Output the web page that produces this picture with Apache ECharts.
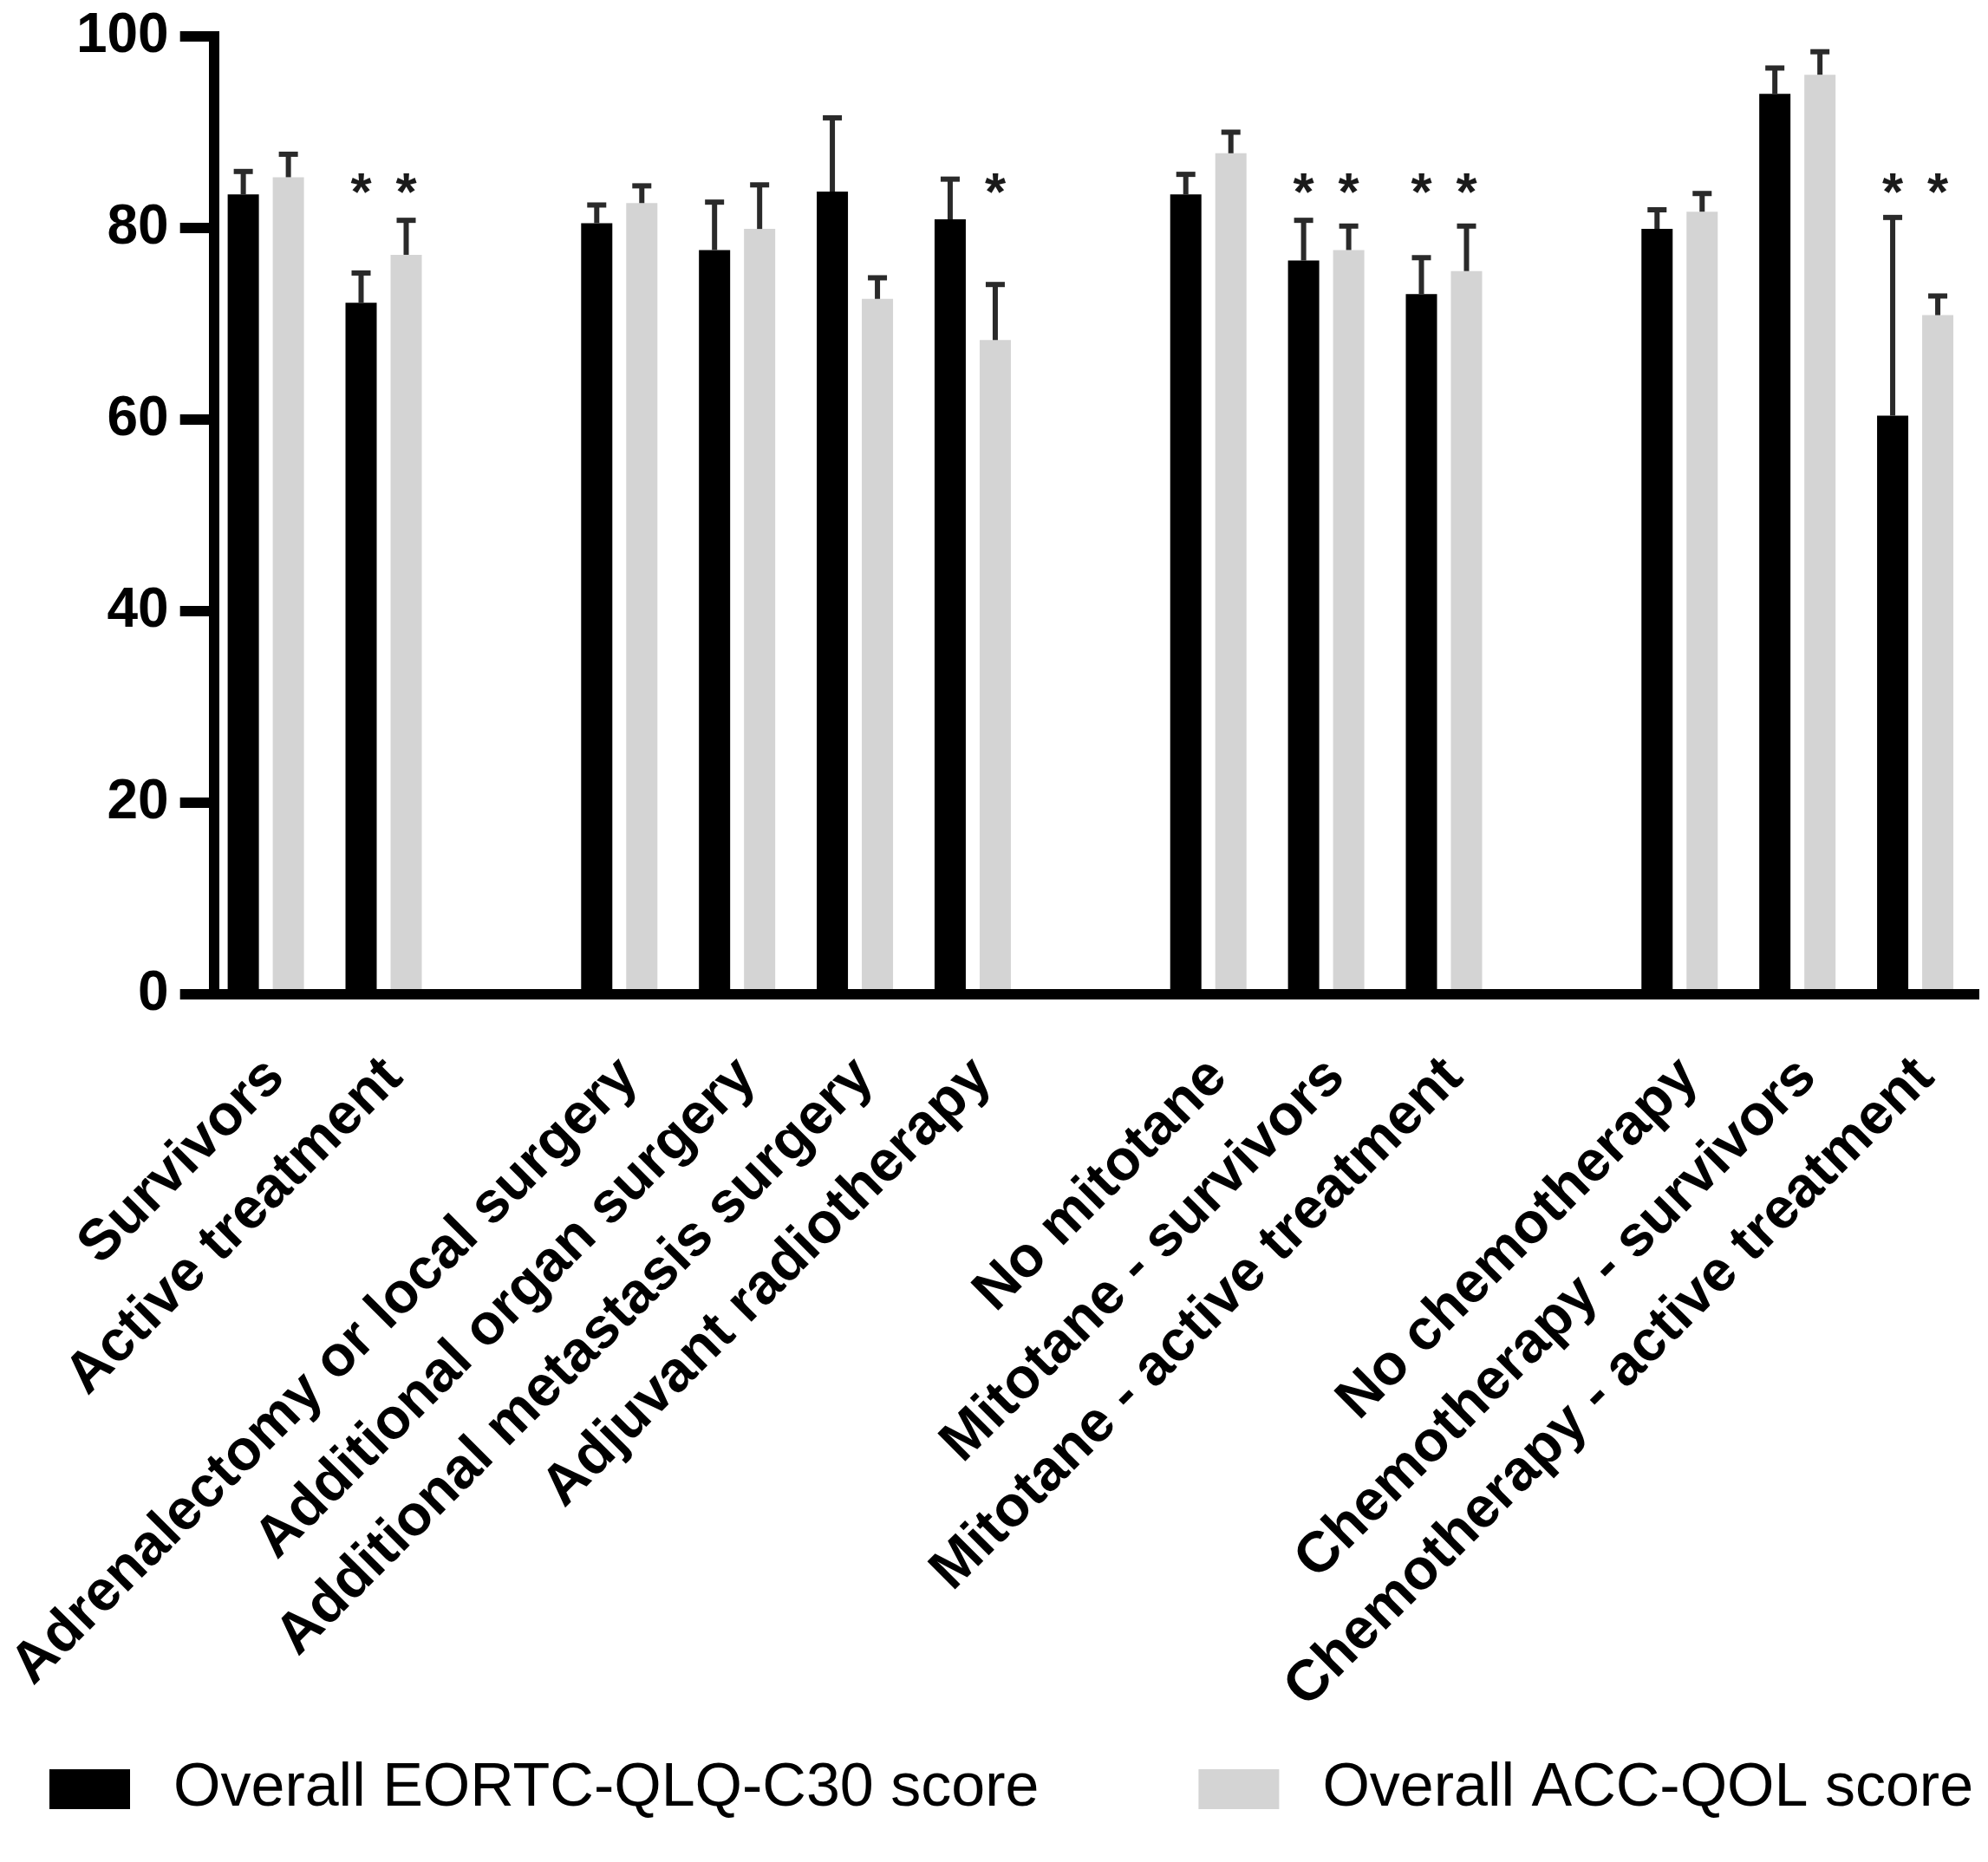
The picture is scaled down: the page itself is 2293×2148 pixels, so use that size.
<!DOCTYPE html>
<html>
<head>
<meta charset="utf-8">
<script src="https://cdn.jsdelivr.net/npm/echarts@6/dist/echarts.min.js"></script>
<style>
  html, body { margin: 0; padding: 0; background: #fff; }
  #chart { width: 2293px; height: 2148px; }
</style>
</head>
<body>
<div id="chart"></div>
<script>
// ---- data (blank strings are the empty slots between groups) ----
const categories = [
  'Survivors', 'Active treatment', '',
  'Adrenalectomy or local surgery', 'Additional organ surgery', 'Additional metastasis surgery', 'Adjuvant radiotherapy', '',
  'No mitotane', 'Mitotane - survivors', 'Mitotane - active treatment', '',
  'No chemotherapy', 'Chemotherapy - survivors', 'Chemotherapy - active treatment'
];
const seriesNames = ['Overall EORTC-QLQ-C30 score', 'Overall ACC-QOL score'];
const eortcMean = [83.5, 72.2, null, 80.5, 77.7, 83.8, 80.9, null, 83.5, 76.6, 73.1, null, 79.9, 94.0, 60.4];
const eortcErr  = [2.4, 3.1, null, 1.9, 5.0, 7.7, 4.2, null, 2.1, 4.2, 3.8, null, 2.0, 2.7, 20.7];
const accMean   = [85.3, 77.2, null, 82.6, 79.9, 72.6, 68.3, null, 87.8, 77.7, 75.5, null, 81.7, 96.0, 70.9];
const accErr    = [2.4, 3.6, null, 1.8, 4.6, 2.2, 5.8, null, 2.2, 2.5, 4.7, null, 1.9, 2.4, 2.0];
const eortcStar = [0, 1, 0, 0, 0, 0, 0, 0, 0, 1, 1, 0, 0, 0, 1];
const accStar   = [0, 1, 0, 0, 0, 0, 1, 0, 0, 1, 1, 0, 0, 0, 1];
const starLevel = 84.5;
const yTicks = { min: 0, max: 100, interval: 20 };

// ---- style constants ----
const FONT = "'Liberation Sans', Arial, Helvetica, sans-serif";
const BAR_W = 36;
const BAR_GAP_PX = 16;
const colors = ['#000000', '#d4d4d4'];

const chart = echarts.init(document.getElementById('chart'), null, { renderer: 'canvas' });

function errData(mean, err, star) {
  const out = [];
  mean.forEach((m, i) => { if (m != null) out.push([i, m, err[i], star[i]]); });
  return out;
}

function makeErrRender(sign) {
  return function (params, api) {
    const idx = api.value(0), m = api.value(1), e = api.value(2), s = api.value(3);
    const base = api.coord([idx, m]);
    const top = api.coord([idx, m + e]);
    const dx = sign * (BAR_W + BAR_GAP_PX) / 2;
    const x = base[0] + dx;
    const children = [
      { type: 'line', shape: { x1: x, y1: base[1], x2: x, y2: top[1] },
        style: { stroke: '#2a2a2a', lineWidth: 6 } },
      { type: 'line', shape: { x1: x - 11, y1: top[1], x2: x + 11, y2: top[1] },
        style: { stroke: '#2a2a2a', lineWidth: 6 } }
    ];
    if (s) {
      const sp = api.coord([idx, starLevel]);
      children.push({ type: 'text', x: x, y: sp[1] + 12,
        style: { text: '*', fill: '#1a1a1a', font: 'bold 62px ' + FONT,
                 textAlign: 'center', textVerticalAlign: 'middle' } });
    }
    return { type: 'group', children: children };
  };
}

const option = {
  animation: false,
  backgroundColor: '#ffffff',
  grid: { left: 231, right: 16, top: 42, bottom: 1001, containLabel: false },
  legend: {
    data: seriesNames,
    left: 57, top: 2029,
    padding: 0,
    itemWidth: 93, itemHeight: 46, itemGap: 184,
    icon: 'rect',
    textStyle: { fontFamily: FONT, fontSize: 70, color: '#000', padding: [0, 0, 0, 45] }
  },
  xAxis: {
    type: 'category',
    data: categories,
    z: 5,
    axisLine: { lineStyle: { color: '#000', width: 12, cap: 'square' } },
    axisTick: { show: false },
    axisLabel: {
      interval: 0, rotate: 45, margin: 50,
      verticalAlign: 'top',
      padding: [0, 17, 0, 0],
      fontFamily: FONT, fontSize: 66, fontWeight: 'bold', color: '#000'
    },
    splitLine: { show: false }
  },
  yAxis: {
    type: 'value',
    min: yTicks.min, max: yTicks.max, interval: yTicks.interval,
    offset: -8,
    z: 5,
    axisLine: { show: true, lineStyle: { color: '#000', width: 12, cap: 'square' } },
    axisTick: { show: true, length: 39, lineStyle: { color: '#000', width: 12 } },
    axisLabel: { margin: 52, fontFamily: FONT, fontSize: 64, fontWeight: 'bold', color: '#000' },
    splitLine: { show: false }
  },
  series: [
    { name: seriesNames[0], type: 'bar', data: eortcMean, barWidth: BAR_W,
      barGap: (BAR_GAP_PX / BAR_W * 100) + '%', itemStyle: { color: colors[0] }, z: 2 },
    { name: seriesNames[1], type: 'bar', data: accMean, barWidth: BAR_W,
      barGap: (BAR_GAP_PX / BAR_W * 100) + '%', itemStyle: { color: colors[1] }, z: 2 },
    { name: 'eortc-err', type: 'custom', data: errData(eortcMean, eortcErr, eortcStar),
      renderItem: makeErrRender(-1), encode: { x: 0, y: 1 }, z: 3, clip: false, silent: true },
    { name: 'acc-err', type: 'custom', data: errData(accMean, accErr, accStar),
      renderItem: makeErrRender(1), encode: { x: 0, y: 1 }, z: 3, clip: false, silent: true }
  ]
};
chart.setOption(option);
</script>
</body>
</html>
